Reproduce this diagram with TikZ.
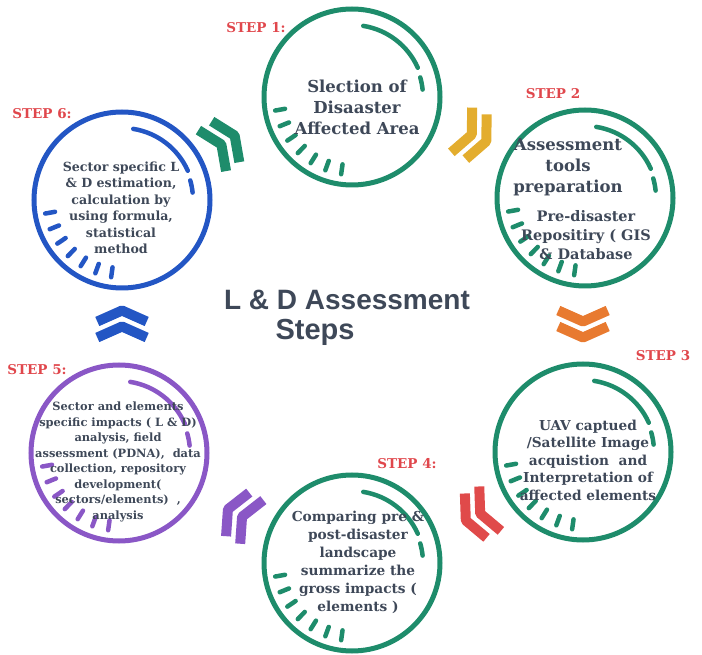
\documentclass[tikz,border=0pt]{standalone}
\usepackage{fontspec}
\setmainfont{DejaVu Serif}
\newfontfamily\titlefont{Liberation Sans}
\usetikzlibrary{positioning}

\definecolor{ldgreen}{HTML}{1E8C6B}
\definecolor{ldblue}{HTML}{2356C4}
\definecolor{ldpurple}{HTML}{8A57C6}
\definecolor{ldyellow}{HTML}{E3AD2E}
\definecolor{ldorange}{HTML}{E87A30}
\definecolor{ldred}{HTML}{E04A4A}
\definecolor{steplab}{HTML}{E0474C}
\definecolor{inktext}{HTML}{3E4858}

\tikzset{
  ring/.style={draw, circle, line width=5pt, minimum size=176pt, inner sep=0pt},
  deco/.style={line width=4.5pt, line cap=round},
  steplabel/.style={text=steplab, font=\bfseries\fontsize{13.5}{15}\selectfont},
  steptext/.style={text=inktext, align=center},
  pics/ringdeco/.style={code={
    \draw[deco] (81:72) arc[start angle=81, end angle=24, radius=72];
    \draw[deco] (16:71) arc[start angle=16, end angle=6, radius=71];
    \foreach \a in {190,202,...,262}
      \draw[deco] (\a:68) -- (\a:78);
  }},
  pics/chev/.style={code={
    \draw[line width=10pt, line join=round] (-3,24.7) -- (8,0) -- (-3,-24.7);
    \draw[line width=10pt, line join=round] (-19,24.7) -- (-8,0) -- (-19,-24.7);
  }}
}

\begin{document}
\begin{tikzpicture}[x=1pt, y=1pt]
\useasboundingbox (0,0) rectangle (702,654);

% circle centres
\coordinate (c1) at (352,557);
\coordinate (c2) at (585,456);
\coordinate (c3) at (583,202);
\coordinate (c4) at (352,91);
\coordinate (c5) at (119,201);
\coordinate (c6) at (122,454);

\node[ring, ldgreen] (s1) at (c1) {};
\node[ring, ldgreen] (s2) at (c2) {};
\node[ring, ldgreen] (s3) at (c3) {};
\node[ring, ldgreen] (s4) at (c4) {};
\node[ring, ldpurple] (s5) at (c5) {};
\node[ring, ldblue] (s6) at (c6) {};

\pic[ldgreen] at (c1) {ringdeco};
\pic[ldgreen] at (c2) {ringdeco};
\pic[ldgreen] at (c3) {ringdeco};
\pic[ldgreen] at (c4) {ringdeco};
\pic[ldpurple] at (c5) {ringdeco};
\pic[ldblue] at (c6) {ringdeco};

% chevrons between the steps
\pic[ldgreen, rotate=34] at (228,514) {chev};
\pic[ldyellow, rotate=-25] at (479,516) {chev};
\pic[ldorange, rotate=-90] at (583,324.5) {chev};
\pic[ldred, rotate=206] at (473,137) {chev};
\pic[ldpurple, rotate=152] at (235,141) {chev};
\pic[ldblue, rotate=90] at (122,335.5) {chev};

\node[steplabel] (l1) at (256,626) {STEP 1:};
\node[steplabel] (l2) at (553,560) {STEP 2};
\node[steplabel] (l3) at (663,298) {STEP 3};
\node[steplabel] (l4) at (407,190) {STEP 4:};
\node[steplabel] (l5) at (37,284) {STEP 5:};
\node[steplabel] (l6) at (42,540) {STEP 6:};

\node[steptext, font=\bfseries\fontsize{16.5}{21}\selectfont] (t1) at (357,547)
  {Slection of\\Disaaster\\Affected Area};
\node[steptext, font=\bfseries\fontsize{16.5}{21}\selectfont] (t2a) at (568,487)
  {Assessment\\tools\\preparation};
\node[steptext, font=\bfseries\fontsize{14.5}{19}\selectfont] (t2b) at (586,419)
  {Pre-disaster\\Repositiry ( GIS\\\& Database};
\node[steptext, font=\bfseries\fontsize{13.7}{17.5}\selectfont] (t3) at (588,194)
  {UAV captued\\/Satellite Image\\acquistion~ and\\Interpretation of\\affected elements};
\node[steptext, font=\bfseries\fontsize{13.7}{18}\selectfont] (t4) at (358,92)
  {Comparing pre \&\\post-disaster\\landscape\\summarize the\\gross impacts (\\elements )};
\node[steptext, font=\bfseries\fontsize{11.4}{15.5}\selectfont] (t5) at (118,192)
  {Sector and elements\\specific impacts ( L \& D)\\analysis, field\\assessment (PDNA),~ data\\collection, repository\\development(\\sectors/elements)~ ,\\analysis};
\node[steptext, font=\bfseries\fontsize{12.6}{16.5}\selectfont] (t6) at (121,446)
  {Sector specific L\\\& D estimation,\\calculation by\\using formula,\\statistical\\method};

\node[text=inktext, font=\titlefont\bfseries\fontsize{28}{30}\selectfont] (title) at (347,354) {L \& D Assessment};
\node[text=inktext, font=\titlefont\bfseries\fontsize{29}{30}\selectfont] (steps) at (315,322) {Steps};

\end{tikzpicture}
\end{document}
